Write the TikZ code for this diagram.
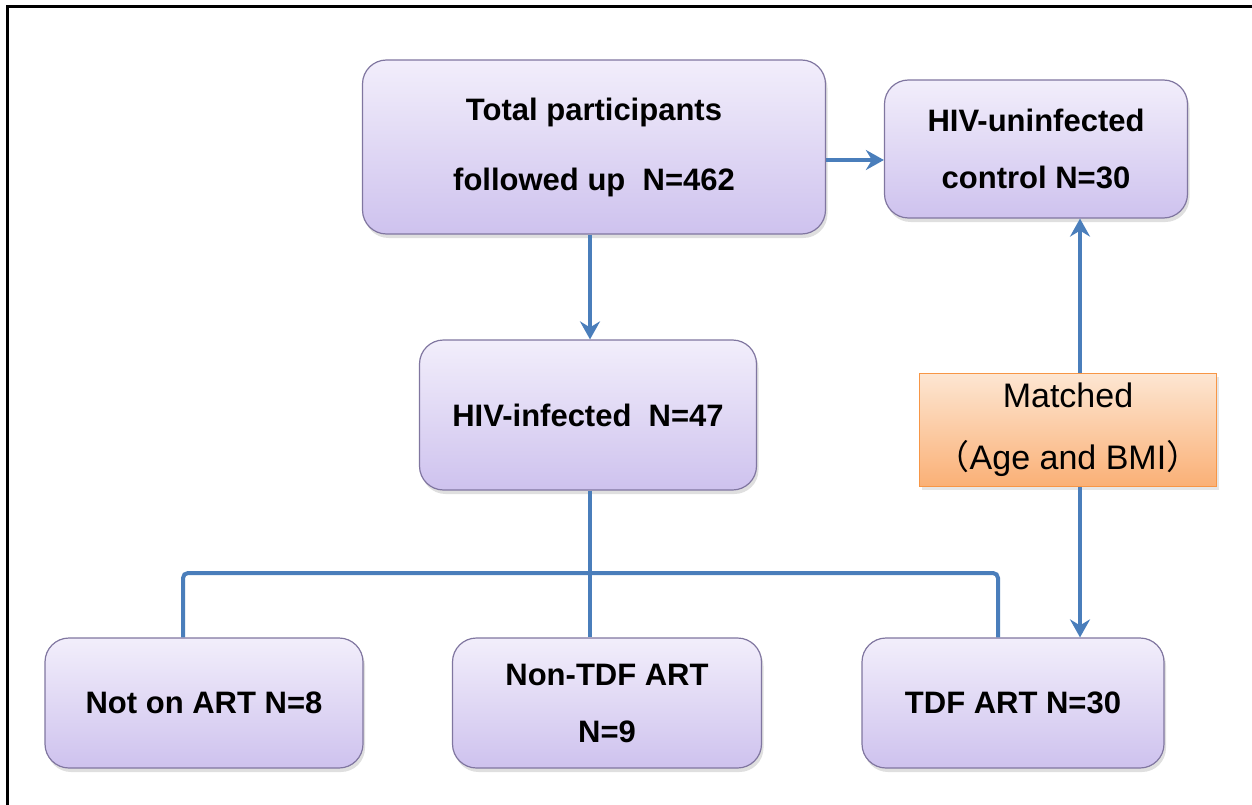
\documentclass[tikz,border=0pt]{standalone}
\usepackage{fontspec}
\setmainfont{Liberation Sans}
\newfontfamily\cjk{Noto Sans CJK SC}
\usepackage{xcolor}
\definecolor{lavtop}{RGB}{242,238,251}
\definecolor{lavbot}{RGB}{206,194,238}
\definecolor{lavedge}{RGB}{128,118,160}
\definecolor{linkblue}{RGB}{74,126,187}
\definecolor{peachtop}{RGB}{253,230,210}
\definecolor{peachbot}{RGB}{250,176,118}
\definecolor{peachedge}{RGB}{247,150,70}
\usepackage{tikz}
\usetikzlibrary{arrows.meta,positioning,shadows}
\tikzset{
  >={Stealth[length=18pt,width=20pt,inset=6pt]},
  group/.style={rectangle,draw=lavedge,line width=1.2pt,rounded corners=24pt,inner sep=0pt,
    top color=lavtop,bottom color=lavbot,align=center,
    drop shadow={shadow xshift=2pt,shadow yshift=-4pt,opacity=0.25},
    font=\bfseries\fontsize{31}{57}\selectfont},
  matchbox/.style={rectangle,draw=peachedge,line width=1.2pt,inner sep=0pt,
    top color=peachtop,bottom color=peachbot,align=center,
    drop shadow={shadow xshift=2pt,shadow yshift=-3pt,opacity=0.2},
    font=\fontsize{34}{62}\selectfont},
  link/.style={draw=linkblue,line width=4pt}
}

\begin{document}
\begin{tikzpicture}[x=1pt,y=-1pt]
  \useasboundingbox (0,0) rectangle (1252,805);
  \draw[line width=3pt] (7,805) -- (7,7) -- (1252,7);

  \node[group,minimum width=463pt,minimum height=174pt,font=\bfseries\fontsize{31}{70}\selectfont] (total) at (594,147) {Total participants\\followed up\ \ N=462};
  \node[group,minimum width=303pt,minimum height=138pt] (control) at (1036,149) {HIV-uninfected\\control N=30};
  \node[group,minimum width=337pt,minimum height=150pt] (infected) at (588,415) {HIV-infected\ \ N=47};
  \node[matchbox,minimum width=297pt,minimum height=113pt] (matched) at (1068,430) {Matched\\{\cjk （}Age and BMI{\cjk ）}};
  \node[group,minimum width=318pt,minimum height=130pt] (noart) at (204,703) {Not on ART N=8};
  \node[group,minimum width=309pt,minimum height=130pt] (nontdf) at (607,703) {Non-TDF ART\\N=9};
  \node[group,minimum width=302pt,minimum height=130pt] (tdf) at (1013,703) {TDF ART N=30};

  % connector positions
  \coordinate (trunk) at (590,0);
  \coordinate (side) at (0,160);
  \coordinate (barl) at (183,573);
  \coordinate (barr) at (998,573);
  \coordinate (pair) at (1080,0);

  \draw[link,->] (total.south -| trunk) -- (infected.north -| trunk);
  \draw[link,->] (total.east |- side) -- (control.west |- side);
  \draw[link] (infected.south -| trunk) -- (nontdf.north -| trunk);
  \draw[link,rounded corners=5pt] (noart.north -| barl) -- (barl) -- (barr) -- (tdf.north -| barr);
  \draw[link,->] (matched.north -| pair) -- (control.south -| pair);
  \draw[link,->] (matched.south -| pair) -- (tdf.north -| pair);
\end{tikzpicture}
\end{document}
